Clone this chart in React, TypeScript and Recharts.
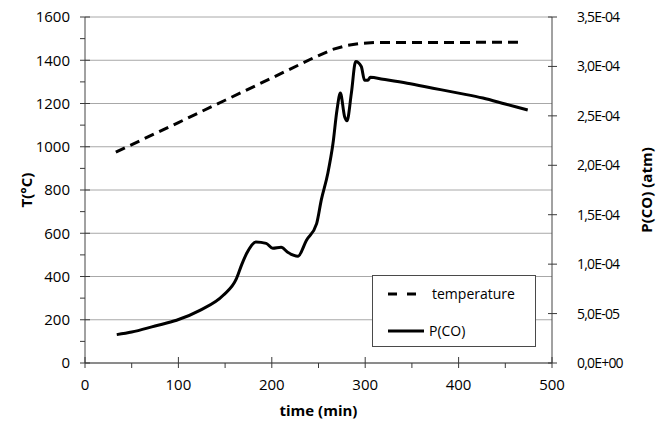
import React from 'react';
import { LineChart, Line, XAxis, YAxis, CartesianGrid, Legend } from 'recharts';

// temperature (left axis, °C)
const tempTime = [33, 100, 150, 200, 245, 265, 280, 295, 310, 467];
const tempValues = [975, 1112, 1215, 1318, 1412, 1450, 1468, 1478, 1482, 1483];

// P(CO) (right axis, atm)
const pcoTime = [
    34, 50, 75, 98, 123, 148, 162, 168, 173, 183, 194, 201, 210, 217, 228, 237, 248, 253, 260, 265.5,
    269.8, 273.4, 278, 280.5, 285.2, 289.8, 295.8, 299.3, 302.8, 305.5, 319, 345, 372.5, 400, 426, 450, 474
];
const pcoValues = [
    2.87e-5, 3.13e-5, 3.75e-5, 4.32e-5, 5.33e-5, 6.85e-5, 8.5e-5, 1.0e-4, 1.107e-4, 1.225e-4, 1.21e-4,
    1.16e-4, 1.17e-4, 1.12e-4, 1.08e-4, 1.24e-4, 1.41e-4, 1.65e-4, 1.92e-4, 2.22e-4, 2.56e-4, 2.73e-4,
    2.49e-4, 2.45e-4, 2.73e-4, 3.05e-4, 3.0e-4, 2.86e-4, 2.86e-4, 2.89e-4, 2.87e-4, 2.83e-4, 2.78e-4,
    2.73e-4, 2.68e-4, 2.62e-4, 2.56e-4
];

const seriesOrder = ['temperature', 'P(CO)'];

const xTicks = [0, 50, 100, 150, 200, 250, 300, 350, 400, 450, 500];
const leftTicks = [0, 100, 200, 300, 400, 500, 600, 700, 800, 900, 1000, 1100, 1200, 1300, 1400, 1500, 1600];
const gridValues = [0, 200, 400, 600, 800, 1000, 1200, 1400, 1600];
const rightTicks = [0, 5e-5, 1e-4, 1.5e-4, 2e-4, 2.5e-4, 3e-4, 3.5e-4];

const tempData = tempTime.map((time, i) => ({ time, temperature: tempValues[i] }));
const pcoData = pcoTime.map((time, i) => ({ time, pco: pcoValues[i] }));

const FONT = '"Open Sans", sans-serif';
const AXIS = '#444';
const TICK = '#3a3a3a';
const GRID = '#a8a8a8';
const TEXT = '#000';
const TS = 5; // outer tick length

// 3.5e-4 -> "3,5E-04"
const sciLabel = (v: number) => {
    const [m, e] = v.toExponential(1).split('e');
    const exp = parseInt(e, 10);
    return `${m.replace('.', ',')}E${exp < 0 ? '-' : '+'}${String(Math.abs(exp)).padStart(2, '0')}`;
};

// x,y arrive at the outer end of the tick line
const LeftTick = (props: any) => {
    const { x, y, payload } = props;
    const major = payload.value % 200 === 0;
    if (!major) return <g />;
    return (
        <g>
            <line x1={x + TS} x2={x + TS + 5} y1={y} y2={y} stroke={TICK} strokeWidth={1} />
            <text x={x - 10} y={y} dy="0.36em" textAnchor="end" fontSize={15} fontWeight={500} fill={TEXT} fontFamily={FONT}>
                {payload.value}
            </text>
        </g>
    );
};

const RightTick = (props: any) => {
    const { x, y, payload } = props;
    return (
        <g>
            <line x1={x - TS} x2={x - TS - 4} y1={y} y2={y} stroke={TICK} strokeWidth={1} />
            <text x={x + 20} y={y} dy="0.36em" textAnchor="start" fontSize={14} fontWeight={500} letterSpacing={-0.8} fill={TEXT} fontFamily={FONT}>
                {sciLabel(payload.value)}
            </text>
        </g>
    );
};

const BottomTick = (props: any) => {
    const { x, y, payload } = props;
    const major = payload.value % 100 === 0;
    if (!major) return <g />;
    return (
        <g>
            <line x1={x} x2={x} y1={y - TS} y2={y - TS - 6} stroke={TICK} strokeWidth={1} />
            <text x={x} y={y + 17} dy="0.36em" textAnchor="middle" fontSize={15} fontWeight={500} fill={TEXT} fontFamily={FONT}>
                {payload.value}
            </text>
        </g>
    );
};

const titleStyle = { fontSize: 15, fontWeight: 700, fill: TEXT, fontFamily: FONT };

const LeftTitle = ({ viewBox }: any) => {
    const cx = viewBox.x + 27;
    const cy = viewBox.y + viewBox.height / 2;
    return (
        <text x={cx} y={cy} transform={`rotate(-90 ${cx} ${cy})`} textAnchor="middle" dy="0.36em" {...titleStyle}>
            T(°C)
        </text>
    );
};

const RightTitle = ({ viewBox }: any) => {
    const cx = viewBox.x + 95;
    const cy = viewBox.y + viewBox.height / 2;
    return (
        <text x={cx} y={cy} transform={`rotate(-90 ${cx} ${cy})`} textAnchor="middle" dy="0.36em" {...titleStyle}>
            P(CO) (atm)
        </text>
    );
};

const BottomTitle = ({ viewBox }: any) => {
    const cx = viewBox.x + viewBox.width / 2;
    return (
        <text x={cx} y={viewBox.y + 48} textAnchor="middle" dy="0.36em" {...titleStyle}>
            time (min)
        </text>
    );
};

const LegendBox = ({ payload }: any) => {
    const items = [...(payload || [])].sort(
        (a: any, b: any) => seriesOrder.indexOf(a.value) - seriesOrder.indexOf(b.value)
    );
    return (
        <div
            style={{
                boxSizing: 'border-box',
                width: 164,
                height: 72,
                border: '1px solid #4a4a4a',
                background: '#fff',
                padding: '2px 0 0 15px',
                fontFamily: FONT,
                fontSize: 14,
                fontWeight: 500,
                color: TEXT
            }}
        >
            {items.map((entry: any) => {
                const dashed = !!entry.payload?.strokeDasharray;
                return (
                    <div key={entry.value} style={{ display: 'flex', alignItems: 'center', height: 31, marginBottom: 6 }}>
                        <svg width={dashed ? 42 : 36} height={10} style={{ marginRight: dashed ? 2 : 5 }}>
                            <line
                                x1={0}
                                x2={dashed ? 30 : 36}
                                y1={5}
                                y2={5}
                                stroke="#000"
                                strokeWidth={3}
                                strokeDasharray={dashed ? '9 10' : undefined}
                            />
                        </svg>
                        <span>{entry.value}</span>
                    </div>
                );
            })}
        </div>
    );
};

const App: React.FC = () => {
    return (
        <div style={{ position: 'absolute', left: 0, top: 0, width: 660, height: 423, background: '#fff' }}>
            <LineChart width={660} height={423} margin={{ top: 17, right: 0, bottom: 0, left: 0 }}>
                <CartesianGrid yAxisId="left" vertical={false} horizontalValues={gridValues} stroke={GRID} />
                <XAxis
                    dataKey="time"
                    type="number"
                    domain={[0, 500]}
                    ticks={xTicks}
                    interval={0}
                    height={60}
                    stroke={AXIS}
                    tickSize={TS}
                    tickMargin={0}
                    tickLine={{ stroke: TICK }}
                    tick={<BottomTick />}
                    label={{ content: (p: any) => <BottomTitle {...p} /> }}
                />
                <YAxis
                    yAxisId="left"
                    domain={[0, 1600]}
                    ticks={leftTicks}
                    interval={0}
                    width={85}
                    stroke={AXIS}
                    tickSize={TS}
                    tickMargin={0}
                    tickLine={{ stroke: TICK }}
                    tick={<LeftTick />}
                    label={{ content: (p: any) => <LeftTitle {...p} /> }}
                />
                <YAxis
                    yAxisId="right"
                    orientation="right"
                    domain={[0, 3.5e-4]}
                    ticks={rightTicks}
                    interval={0}
                    width={108}
                    stroke={AXIS}
                    tickSize={TS}
                    tickMargin={0}
                    tickLine={{ stroke: TICK }}
                    tick={<RightTick />}
                    label={{ content: (p: any) => <RightTitle {...p} /> }}
                />
                <Legend
                    layout="horizontal"
                    verticalAlign="middle"
                    align="center"
                    content={<LegendBox />}
                    wrapperStyle={{ left: 372, top: 275, width: 164, height: 72 }}
                />
                <Line
                    data={tempData}
                    yAxisId="left"
                    dataKey="temperature"
                    name="temperature"
                    type="linear"
                    stroke="#000"
                    strokeWidth={3}
                    strokeDasharray="10 6"
                    dot={false}
                    activeDot={false}
                    isAnimationActive={false}
                />
                <Line
                    data={pcoData}
                    yAxisId="right"
                    dataKey="pco"
                    name="P(CO)"
                    type="monotone"
                    stroke="#000"
                    strokeWidth={3}
                    dot={false}
                    activeDot={false}
                    isAnimationActive={false}
                />
            </LineChart>
        </div>
    );
};

export default App;
